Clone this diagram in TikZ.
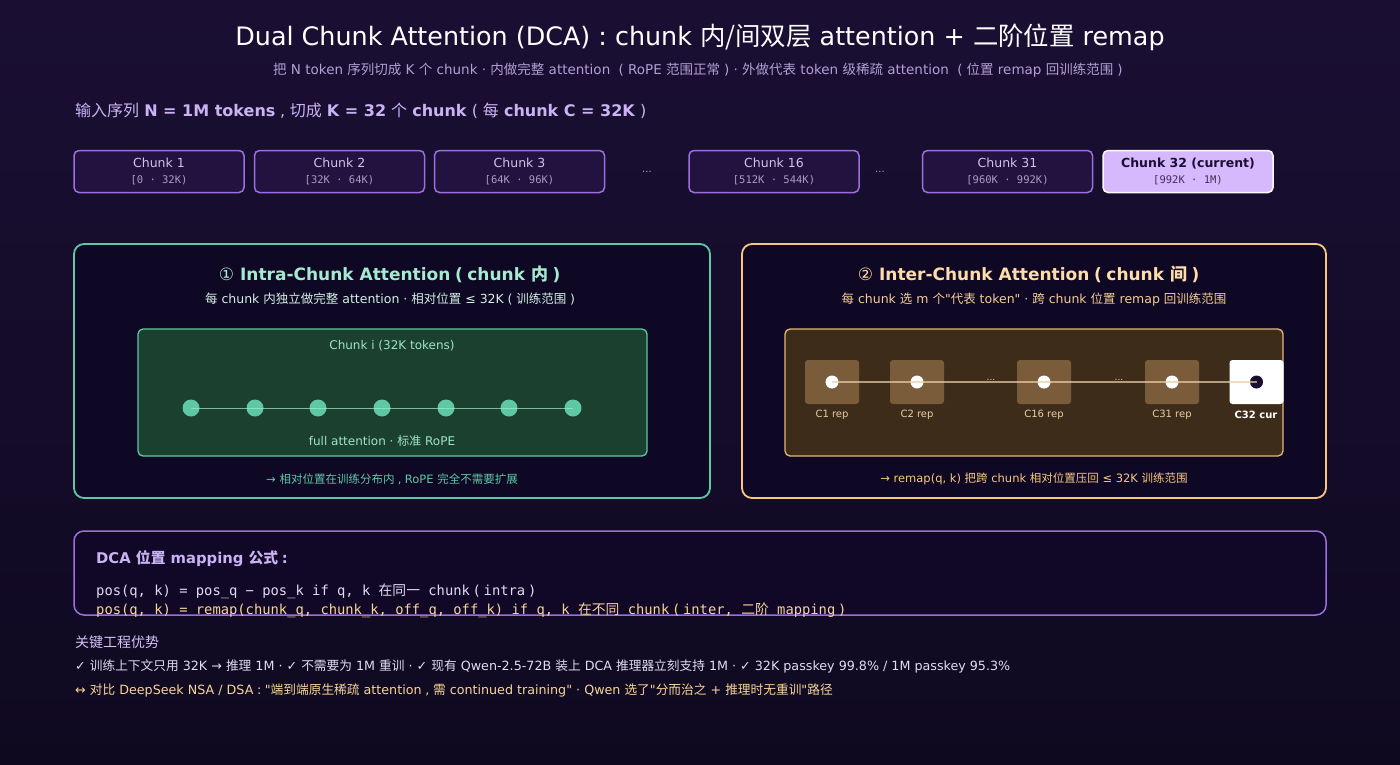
\documentclass[tikz,border=0pt]{standalone}
\usepackage{fontspec}
\setmainfont{DejaVu Sans}[Ligatures=TeXOff]
\setmonofont{DejaVu Sans Mono}
\newfontfamily\zhfont{Noto Sans CJK SC}
\newcommand{\zh}[1]{{\zhfont #1}}
\newcommand{\rng}[1]{{\ttfamily\fontsize{10.5}{12}\selectfont #1}}
%% wide punctuation, centred in one em
\newcommand{\lp}{\makebox[1em]{(}}
\newcommand{\rp}{\makebox[1em]{)}}
\newcommand{\cm}{\makebox[0.9em]{,}}
\newcommand{\cl}{\makebox[0.9em]{:}}
\newcommand{\dq}{\symbol{34}}
\usetikzlibrary{positioning}
\definecolor{bgtop}{HTML}{1A0F33}
\definecolor{bgbot}{HTML}{0F0920}
\definecolor{purp}{HTML}{9B6FE0}
\definecolor{chunkfill}{HTML}{22123F}
\definecolor{chunktext}{HTML}{CFC4E8}
\definecolor{rangetext}{HTML}{A99CC4}
\definecolor{curfill}{HTML}{D6B8FC}
\definecolor{curtext}{HTML}{1A0F33}
\definecolor{subtext}{HTML}{B0A0D6}
\definecolor{lavtext}{HTML}{CBB2F4}
\definecolor{panelfill}{HTML}{0E0825}
\definecolor{mint}{HTML}{5EC8A4}
\definecolor{minttext}{HTML}{A6EACF}
\definecolor{mintpale}{HTML}{D4EFE4}
\definecolor{greenfill}{HTML}{1B4030}
\definecolor{amber}{HTML}{F7C77F}
\definecolor{ambertext}{HTML}{FFDCAA}
\definecolor{amberpale}{HTML}{F4CC94}
\definecolor{brownfill}{HTML}{3E2C1A}
\definecolor{tanbox}{HTML}{7A5C3A}
\definecolor{tanline}{HTML}{E8CFA8}
\definecolor{formfill}{HTML}{100826}
\definecolor{paletext}{HTML}{E2DAF2}
\definecolor{orangetext}{HTML}{F8D49C}
\begin{document}
\begin{tikzpicture}[x=1pt,y=-1pt,
    chunk/.style={draw=purp,line width=1.5pt,fill=chunkfill,rounded corners=5pt,minimum width=170,minimum height=42,
        align=center,text=chunktext,font=\fontsize{12.5}{16}\selectfont},
    panel/.style={line width=1.8pt,fill=panelfill,rounded corners=10pt},
    inner/.style={line width=1.3pt,rounded corners=5pt},
    tok/.style={circle,fill=mint,inner sep=0pt,minimum size=17},
    repbox/.style={fill=tanbox,rounded corners=3pt,inner sep=0pt,minimum width=54,minimum height=44},
    repdot/.style={circle,fill=white,inner sep=0pt,minimum size=13},
    replbl/.style={text=tanline,font=\fontsize{10}{12}\selectfont},
    note/.style={anchor=west,inner sep=0pt}]
    \useasboundingbox (0,0) rectangle (1400,764);
    \shade[top color=bgtop,bottom color=bgbot] (0,0) rectangle (1400,764);
    %% title
    \node[text=white,font=\fontsize{25.4}{29}\selectfont] (title) at (700,37)
        {Dual Chunk Attention (DCA) : chunk \zh{内/间双层} attention + \zh{二阶位置} remap};
    \node[text=subtext,font=\fontsize{13.5}{16}\selectfont] (subtitle) at (700,70)
        {\zh{把} N token \zh{序列切成} K \zh{个} chunk · \zh{内做完整} attention \lp RoPE \zh{范围正常}\rp· \zh{外做代表} token \zh{级稀疏} attention \lp\zh{位置} remap \zh{回训练范围}\rp};
    \node[note,text=lavtext,font=\fontsize{16}{19}\selectfont] (input) at (75,111)
        {\zh{输入序列} \textbf{N = 1M tokens}\cm\zh{切成} \textbf{K = 32} \zh{个} \textbf{chunk}\lp\zh{每} \textbf{chunk C = 32K}\rp};
    %% chunks
    \node[chunk] (c1) at (159,171.5) {Chunk 1\\\rng{\color{rangetext}[0 · 32K)}};
    \node[chunk] (c2) at (339.5,171.5) {Chunk 2\\\rng{\color{rangetext}[32K · 64K)}};
    \node[chunk] (c3) at (519.5,171.5) {Chunk 3\\\rng{\color{rangetext}[64K · 96K)}};
    \node[text=rangetext] (dots1) at (647,172) {...};
    \node[chunk] (c16) at (774,171.5) {Chunk 16\\\rng{\color{rangetext}[512K · 544K)}};
    \node[text=rangetext] (dots2) at (880,172) {...};
    \node[chunk] (c31) at (1007.5,171.5) {Chunk 31\\\rng{\color{rangetext}[960K · 992K)}};
    \node[chunk,draw=white!92!curfill,fill=curfill,text=curtext] (c32) at (1188,171.5)
        {\textbf{Chunk 32 (current)}\\\rng{\color{curtext!80!curfill}[992K · 1M)}};
    %% intra-chunk panel
    \node[panel,draw=mint,minimum width=636,minimum height=254] (intra) at (392,371) {};
    \node[text=minttext,font=\bfseries\fontsize{17}{20}\selectfont] (intratitle) at (392,274)
        {{\mdseries ①} Intra-Chunk Attention\lp chunk \zh{内}\rp};
    \node[text=mintpale,font=\fontsize{12.5}{15}\selectfont] (intrasub) at (392,299)
        {\zh{每} chunk \zh{内独立做完整} attention · \zh{相对位置} ≤ 32K\lp\zh{训练范围}\rp};
    \node[inner,draw=mint,fill=greenfill,minimum width=509,minimum height=127] (chunki) at (392.5,392.5) {};
    \node[text=minttext!85!mint,font=\fontsize{12}{14}\selectfont] (chunkilbl) at (392,346) {Chunk i (32K tokens)};
    \node[tok] (t1) at (191,408) {};
    \node[tok] (t2) at (255,408) {};
    \node[tok] (t3) at (318,408) {};
    \node[tok] (t4) at (382,408) {};
    \node[tok] (t5) at (446,408) {};
    \node[tok] (t6) at (509,408) {};
    \node[tok] (t7) at (573,408) {};
    \draw[minttext,line width=0.8pt,opacity=0.7] (t1.center) -- (t7.center);
    \node[text=minttext!85!mint,font=\fontsize{12}{14}\selectfont] (fullatt) at (382,441) {full attention · \zh{标准} RoPE};
    \node[text=mint,font=\fontsize{11.5}{14}\selectfont] (intranote) at (392,479)
        {→ \zh{相对位置在训练分布内}\cm RoPE \zh{完全不需要扩展}};
    %% inter-chunk panel
    \node[panel,draw=amber,minimum width=584,minimum height=254] (inter) at (1034,371) {};
    \node[text=ambertext,font=\bfseries\fontsize{17}{20}\selectfont] (intertitle) at (1031,274)
        {{\mdseries ②} Inter-Chunk Attention\lp chunk \zh{间}\rp};
    \node[text=amberpale,font=\fontsize{12.5}{15}\selectfont] (intersub) at (1034,299)
        {\zh{每} chunk \zh{选} m \zh{个}\dq\zh{代表} token\dq{} · \zh{跨} chunk \zh{位置} remap \zh{回训练范围}};
    \node[inner,draw=amber!90!brownfill,fill=brownfill,minimum width=498,minimum height=127] (reps) at (1034,392.5) {};
    \node[repbox] (b1) at (832,382) {};
    \node[repbox] (b2) at (917,382) {};
    \node[repbox] (b16) at (1044,382) {};
    \node[repbox] (b31) at (1172,382) {};
    \node[repbox,fill=white] (b32) at (1256.5,382) {};
    \node[repdot] (d1) at (b1) {};
    \node[repdot] (d2) at (b2) {};
    \node[repdot] (d16) at (b16) {};
    \node[repdot] (d31) at (b31) {};
    \node[repdot,fill=curtext] (d32) at (b32) {};
    \node[text=tanline,font=\fontsize{9}{10}\selectfont] (rdots1) at (991,380) {...};
    \node[text=tanline,font=\fontsize{9}{10}\selectfont] (rdots2) at (1119,380) {...};
    \draw[tanline,line width=1.2pt,opacity=0.7] (d1.center) -- (d32.center);
    \node[replbl] (l1) at (832,415) {C1 rep};
    \node[replbl] (l2) at (917,415) {C2 rep};
    \node[replbl] (l16) at (1044,415) {C16 rep};
    \node[replbl] (l31) at (1172,415) {C31 rep};
    \node[replbl,text=white,font=\bfseries\fontsize{10}{12}\selectfont] (l32) at (1256,415) {C32 cur};
    \node[text=amber,font=\fontsize{11.5}{14}\selectfont] (internote) at (1034,479)
        {→ remap(q, k) \zh{把跨} chunk \zh{相对位置压回} ≤ 32K \zh{训练范围}};
    %% formula
    \node[panel,draw=purp,line width=1.5pt,fill=formfill,minimum width=1252,minimum height=84] (formula) at (700,573) {};
    \node[note,text=lavtext,font=\bfseries\fontsize{14.8}{17}\selectfont] (formtitle) at (96,559)
        {DCA \zh{位置} mapping \zh{公式}\cl};
    \node[note,text=paletext,font=\ttfamily\fontsize{13.8}{16}\selectfont] (form1) at (96,591)
        {pos(q, k) = pos\_q − pos\_k if q, k \zh{在同一} chunk\lp intra\rp};
    \node[note,text=orangetext,font=\ttfamily\fontsize{13.8}{16}\selectfont] (form2) at (96,610)
        {pos(q, k) = remap(chunk\_q, chunk\_k, off\_q, off\_k) if q, k \zh{在不同} chunk\lp inter, \zh{二阶} mapping\rp};
    %% bottom notes
    \node[note,text=lavtext!80!white,font=\fontsize{14}{17}\selectfont] (keyhead) at (75,642) {\zh{关键工程优势}};
    \node[note,text=paletext,font=\fontsize{12.7}{15}\selectfont] (keyline) at (75,666)
        {✓ \zh{训练上下文只用} 32K → \zh{推理} 1M · ✓ \zh{不需要为} 1M \zh{重训} · ✓ \zh{现有} Qwen-2.5-72B \zh{装上} DCA \zh{推理器立刻支持} 1M · ✓ 32K passkey 99.8\% / 1M passkey 95.3\%};
    \node[note,text=orangetext,font=\fontsize{12.7}{15}\selectfont] (vsline) at (75,690)
        {↔ \zh{对比} DeepSeek NSA / DSA\cl\dq\zh{端到端原生稀疏} attention\cm\zh{需} continued training\dq{} · Qwen \zh{选了}\dq\zh{分而治之} + \zh{推理时无重训}\dq\zh{路径}};
\end{tikzpicture}
\end{document}
